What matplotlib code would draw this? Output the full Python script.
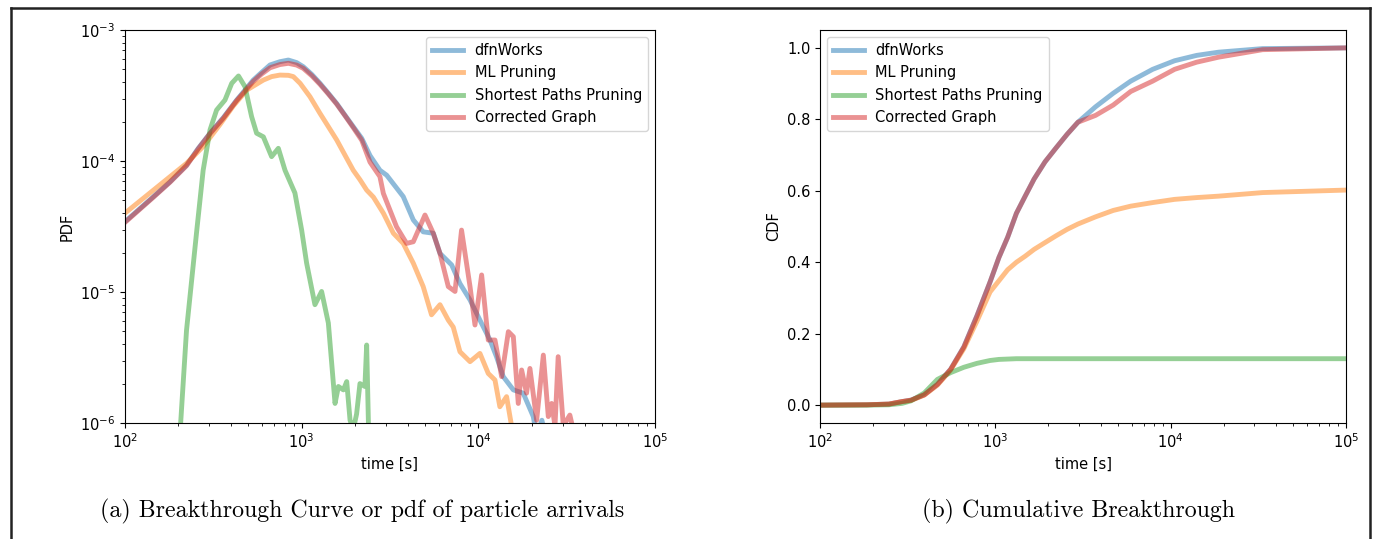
"""Breakthrough curves (PDF and CDF) for the pruned / corrected DFN graphs."""

import matplotlib
matplotlib.use('Agg')
import matplotlib.pyplot as plt
from matplotlib.lines import Line2D

LABELS = ['dfnWorks', 'ML Pruning', 'Shortest Paths Pruning', 'Corrected Graph']
COLORS = ['tab:blue', 'tab:orange', 'tab:green', 'tab:red']

# --- (a) pdf of particle arrivals ---
pdf_dfn_t = [100, 145, 180, 223, 260, 303, 361, 429, 478, 532, 594, 662, 753,
             841, 937, 1021, 1140, 1270, 1416, 1578, 1758, 1959, 2188, 2438,
             2773, 3027, 3758, 4285, 4875, 5559, 6067, 7063, 7870, 8974, 10210,
             11640, 12680, 13840, 15780, 17950, 20460, 21400, 22900, 25100]
pdf_dfn = [3.44e-5, 5.35e-5, 6.95e-5, 9.3e-5, 1.25e-4, 1.63e-4, 2.15e-4,
           2.92e-4, 3.48e-4, 4.15e-4, 4.75e-4, 5.41e-4, 5.73e-4, 5.9e-4,
           5.64e-4, 5.25e-4, 4.59e-4, 3.92e-4, 3.29e-4, 2.75e-4, 2.24e-4,
           1.83e-4, 1.49e-4, 1.10e-4, 8.5e-5, 7.8e-5, 5.35e-5, 3.55e-5, 2.88e-5,
           2.81e-5, 1.97e-5, 1.61e-5, 1.16e-5, 8.7e-6, 6.1e-6, 4.3e-6, 3.2e-6,
           2.26e-6, 1.79e-6, 1.69e-6, 1.12e-6, 8e-7, 1.05e-6, 6e-7]

pdf_ml_t = [100, 145, 180, 223, 277, 345, 410, 489, 607, 676, 753, 841, 897,
            980, 1114, 1270, 1416, 1578, 1758, 1959, 2138, 2333, 2548, 2900,
            3304, 3758, 4285, 4875, 5433, 6067, 6761, 7211, 7870, 8974, 10210,
            11380, 12420, 13240, 14450, 15420, 15850]
pdf_ml = [4.0e-5, 6.0e-5, 7.6e-5, 9.6e-5, 1.29e-4, 1.9e-4, 2.63e-4, 3.48e-4,
          4.15e-4, 4.41e-4, 4.53e-4, 4.51e-4, 4.41e-4, 3.92e-4, 3.10e-4,
          2.31e-4, 1.83e-4, 1.45e-4, 1.11e-4, 8.5e-5, 7.2e-5, 6.0e-5, 5.3e-5,
          4.0e-5, 2.81e-5, 2.35e-5, 1.66e-5, 1.10e-5, 6.7e-6, 8.0e-6, 6.1e-6,
          5.4e-6, 3.5e-6, 2.94e-6, 3.4e-6, 2.39e-6, 2.13e-6, 1.33e-6, 1.59e-6,
          9.5e-7, 7e-7]

pdf_sp_t = [200, 223, 255, 277, 303, 330, 368, 402, 439, 478, 521, 556, 607,
            676, 738, 805, 916, 1000, 1067, 1189, 1297, 1416, 1545, 1614, 1722,
            1799, 1879, 1959, 2046, 2138, 2280, 2333, 2415]
pdf_sp = [5e-7, 5.1e-6, 2.97e-5, 8.5e-5, 1.73e-4, 2.45e-4, 2.92e-4, 3.92e-4,
          4.46e-4, 3.69e-4, 2.18e-4, 1.63e-4, 1.53e-4, 1.08e-4, 1.25e-4,
          8.5e-5, 5.7e-5, 2.97e-5, 1.66e-5, 8.0e-6, 1.01e-5, 5.8e-6, 1.41e-6,
          1.9e-6, 1.79e-6, 2.07e-6, 1.05e-6, 8.9e-7, 1.17e-6, 2.0e-6, 1.9e-6,
          3.94e-6, 5e-7]

pdf_cg_t = [100, 145, 180, 223, 260, 303, 361, 429, 478, 532, 594, 662, 753,
            841, 937, 1021, 1140, 1270, 1416, 1578, 1758, 1959, 2188, 2438,
            2773, 2900, 3443, 3926, 4285, 4989, 5559, 6067, 6761, 7379, 8035,
            8974, 9572, 10440, 11380, 12420, 13550, 14790, 15780, 16830, 17580,
            18750, 19590, 21380, 23330, 24890, 26000, 27160, 28310, 30270,
            32960, 34430]
pdf_cg = [3.40e-5, 5.3e-5, 6.9e-5, 9.2e-5, 1.24e-4, 1.62e-4, 2.13e-4, 2.9e-4,
          3.42e-4, 4.05e-4, 4.62e-4, 5.15e-4, 5.45e-4, 5.57e-4, 5.4e-4,
          5.1e-4, 4.48e-4, 3.85e-4, 3.25e-4, 2.72e-4, 2.22e-4, 1.80e-4,
          1.44e-4, 9.8e-5, 7.6e-5, 5.66e-5, 3.15e-5, 2.35e-5, 2.42e-5, 3.87e-5,
          2.81e-5, 1.97e-5, 1.10e-5, 1.01e-5, 2.97e-5, 1.10e-5, 5.6e-6,
          1.35e-5, 4.3e-6, 4.3e-6, 2.26e-6, 4.98e-6, 4.56e-6, 1.41e-6, 2.54e-6,
          1.69e-6, 2.61e-6, 1.05e-6, 3.3e-6, 1.12e-6, 1.41e-6, 9.5e-7, 3.21e-6,
          9.5e-7, 1.15e-6, 8.9e-7]

# --- (b) cumulative breakthrough ---
cdf_t = [100, 185, 247, 294, 330, 393, 467, 555, 661, 785, 933, 1047, 1175,
         1318, 1479, 1663, 1919, 2218, 2564, 2958, 3724, 4699, 5916, 7889,
         10520, 14060, 18750, 33420, 100000]
cdf_dfn = [0, 0.001, 0.003, 0.010, 0.014, 0.029, 0.058, 0.10, 0.163, 0.25,
           0.345, 0.413, 0.470, 0.537, 0.585, 0.633, 0.681, 0.72, 0.758, 0.792,
           0.835, 0.873, 0.907, 0.94, 0.964, 0.979, 0.988, 0.998, 1.0]
cdf_ml = [0, 0.001, 0.003, 0.010, 0.013, 0.028, 0.056, 0.098, 0.158, 0.235,
          0.317, 0.348, 0.379, 0.40, 0.417, 0.436, 0.455, 0.474, 0.492, 0.507,
          0.527, 0.545, 0.557, 0.567, 0.576, 0.581, 0.585, 0.595, 0.602]
cdf_sp = [0, 0, 0.001, 0.005, 0.012, 0.034, 0.072, 0.091, 0.106, 0.117, 0.125,
          0.128, 0.129, 0.13, 0.13, 0.13, 0.13, 0.13, 0.13, 0.13, 0.13, 0.13,
          0.13, 0.13, 0.13, 0.13, 0.13, 0.13, 0.13]
cdf_cg = [0, 0.001, 0.003, 0.010, 0.014, 0.029, 0.058, 0.10, 0.163, 0.25,
          0.345, 0.413, 0.470, 0.537, 0.585, 0.633, 0.681, 0.72, 0.758, 0.792,
          0.811, 0.84, 0.878, 0.907, 0.94, 0.96, 0.974, 0.995, 1.0]


plt.rcParams['font.size'] = 10.5

fig = plt.figure(figsize=(13.81, 5.39), dpi=100)
ax_pdf = fig.add_axes([0.0905, 0.2152, 0.3838, 0.7291])
ax_cdf = fig.add_axes([0.5938, 0.2152, 0.3809, 0.7291])

pdf_series = [(pdf_dfn_t, pdf_dfn), (pdf_ml_t, pdf_ml), (pdf_sp_t, pdf_sp),
              (pdf_cg_t, pdf_cg)]
for (t, y), label, color in zip(pdf_series, LABELS, COLORS):
  ax_pdf.plot(t, y, color=color, lw=3.5, alpha=0.5, label=label,
              solid_joinstyle='round')
ax_pdf.set_xscale('log')
ax_pdf.set_yscale('log')
ax_pdf.set_xlim(1e2, 1e5)
ax_pdf.set_ylim(1e-6, 1e-3)
ax_pdf.set_xlabel('time [s]')
ax_pdf.set_ylabel('PDF')
ax_pdf.legend(loc='upper right', handlelength=2.1)

for y, label, color in zip([cdf_dfn, cdf_ml, cdf_sp, cdf_cg], LABELS, COLORS):
  ax_cdf.plot(cdf_t, y, color=color, lw=3.5, alpha=0.5, label=label,
              solid_joinstyle='round')
ax_cdf.set_xscale('log')
ax_cdf.set_xlim(1e2, 1e5)
ax_cdf.set_ylim(-0.05, 1.05)
ax_cdf.set_xlabel('time [s]')
ax_cdf.set_ylabel('CDF')
ax_cdf.legend(loc='upper left', handlelength=2.1)

# captions and the surrounding box of the paper figure
fig.text(0.2625, 0.052, '(a) Breakthrough Curve or pdf of particle arrivals',
         ha='center', va='center', fontsize=17.2, family='cmr10')
fig.text(0.7806, 0.052, '(b) Cumulative Breakthrough',
         ha='center', va='center', fontsize=17.2, family='cmr10')
frame = dict(color='#222222', lw=1.8, transform=fig.transFigure)
fig.add_artist(Line2D([0.008, 0.992], [0.985, 0.985], **frame))
fig.add_artist(Line2D([0.008, 0.008], [0.0, 0.985], **frame))
fig.add_artist(Line2D([0.992, 0.992], [0.0, 0.985], **frame))

fig.savefig('out.png', dpi=100)
